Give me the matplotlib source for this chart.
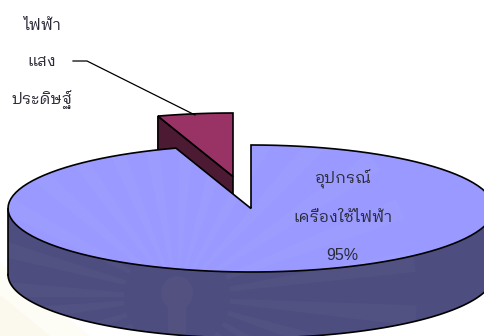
import numpy as np
import matplotlib
matplotlib.use('Agg')
import matplotlib.pyplot as plt
from matplotlib.patches import Circle, Ellipse, Polygon

# slice shares, big one is drawn in place and small one is pulled out
shares = [95, 5]
slice_labels = ['อุปกรณ์', 'เครื่องใช้ไฟฟ้า']
small_labels = ['ไฟฟ้า', 'แสง', 'ประดิษฐ์']
pct_label = '95%'

THAI = ['IBM Plex Sans Thai Looped', 'DejaVu Sans']
LATIN = ['Liberation Sans', 'DejaVu Sans']
TEXT_COLOR = '#2b2b38'

# ellipse geometry, in pixels
CX, CY = 251, 208.5
RX, RY = 243, 63.5
DEPTH = 66
EXPLODE = (-18, -32)
EDGE = dict(ec='black', lw=1.2)


def rim(a0, a1, dx=0, dy=0):
    t = np.radians(np.linspace(a0, a1, 120))
    return CX + dx + RX * np.cos(t), CY + dy - RY * np.sin(t)


fig = plt.figure(figsize=(4.85, 3.36), dpi=100)
ax = fig.add_axes([0, 0, 1, 1])
ax.set_xlim(0, 485)
ax.set_ylim(336, 0)
ax.axis('off')

# cream corner of the page watermark
ax.fill([0, 90, 0], [336, 336, 262], color='#fdfcf5', lw=0, zorder=0)
ax.fill([0, 50, 0], [336, 336, 295], color='#fbf9ee', lw=0, zorder=0)

small_sweep = 360 * shares[1] / sum(shares)
a_split = 90 + small_sweep

# small slice: only its cut face and top show
dx, dy = EXPLODE
x, y = rim(a_split, a_split, dx, dy)
ax.fill([CX + dx, x[0], x[0], CX + dx], [CY + dy, y[0], y[0] + DEPTH, CY + dy + DEPTH],
        color='#4d1a33', zorder=2, **EDGE)
x, y = rim(90, a_split, dx, dy)
ax.fill(np.r_[CX + dx, x], np.r_[CY + dy, y], color='#993366', zorder=3, **EDGE)

# big slice: side wall then top
x, y = rim(180, 360)
side_xy = np.c_[np.r_[x, x[::-1]], np.r_[y, y[::-1] + DEPTH]]
side = Polygon(side_xy, closed=True, color='#4d4d80', lw=0, zorder=4)
ax.add_patch(side)
x, y = rim(a_split, 450)
top_xy = np.c_[np.r_[CX, x], np.r_[CY, y]]
top = Polygon(top_xy, closed=True, color='#9999ff', lw=0, zorder=4)
ax.add_patch(top)

# sun rays and bulb of the watermark showing through the pie
sx, sy = 177, 297
for a in np.arange(-180, 180, 13):
    t = np.radians([a, a + 5])
    for clip, alpha in [(top, 0.035), (side, 0.025)]:
        ray = ax.fill([sx, sx + 240 * np.cos(t[0]), sx + 240 * np.cos(t[1])],
                      [sy, sy + 240 * np.sin(t[0]), sy + 240 * np.sin(t[1])],
                      color='white', alpha=alpha, lw=0, zorder=5)[0]
        ray.set_clip_path(clip)
for patch in [Circle((sx, sy), 53, color='#4d4d80', lw=0, zorder=5.1),
              Ellipse((sx, 293), 32, 34, color='#525180', lw=0, zorder=5.2),
              plt.Rectangle((sx - 9, 305), 18, 31, color='#525180', lw=0, zorder=5.2)]:
    ax.add_patch(patch)
    patch.set_clip_path(side)

# outlines on top of the watermark
ax.add_patch(Polygon(top_xy, closed=True, fill=False, zorder=6, **EDGE))
x, y = rim(180, 360, dy=DEPTH)
ax.plot(x, y, color='black', lw=1.2, zorder=6)
ax.plot([CX - RX, CX - RX], [CY, CY + DEPTH], color='black', lw=1.2, zorder=6)

# leader line from the small slice's label
ax.plot([73, 87, 195], [61, 61, 115], color='black', lw=0.9, zorder=7)

for s, y in zip(small_labels, [25, 61, 100]):
    ax.text(42, y, s, family=THAI, fontsize=11.5, color=TEXT_COLOR, ha='center', va='center', zorder=8)
for s, y in zip(slice_labels, [179, 217]):
    ax.text(343, y, s, family=THAI, fontsize=11.5, color=TEXT_COLOR, ha='center', va='center', zorder=8)
ax.text(342, 256, pct_label, family=LATIN, fontsize=11.5, color=TEXT_COLOR, ha='center', va='center', zorder=8)

fig.savefig('out.png', dpi=100)
